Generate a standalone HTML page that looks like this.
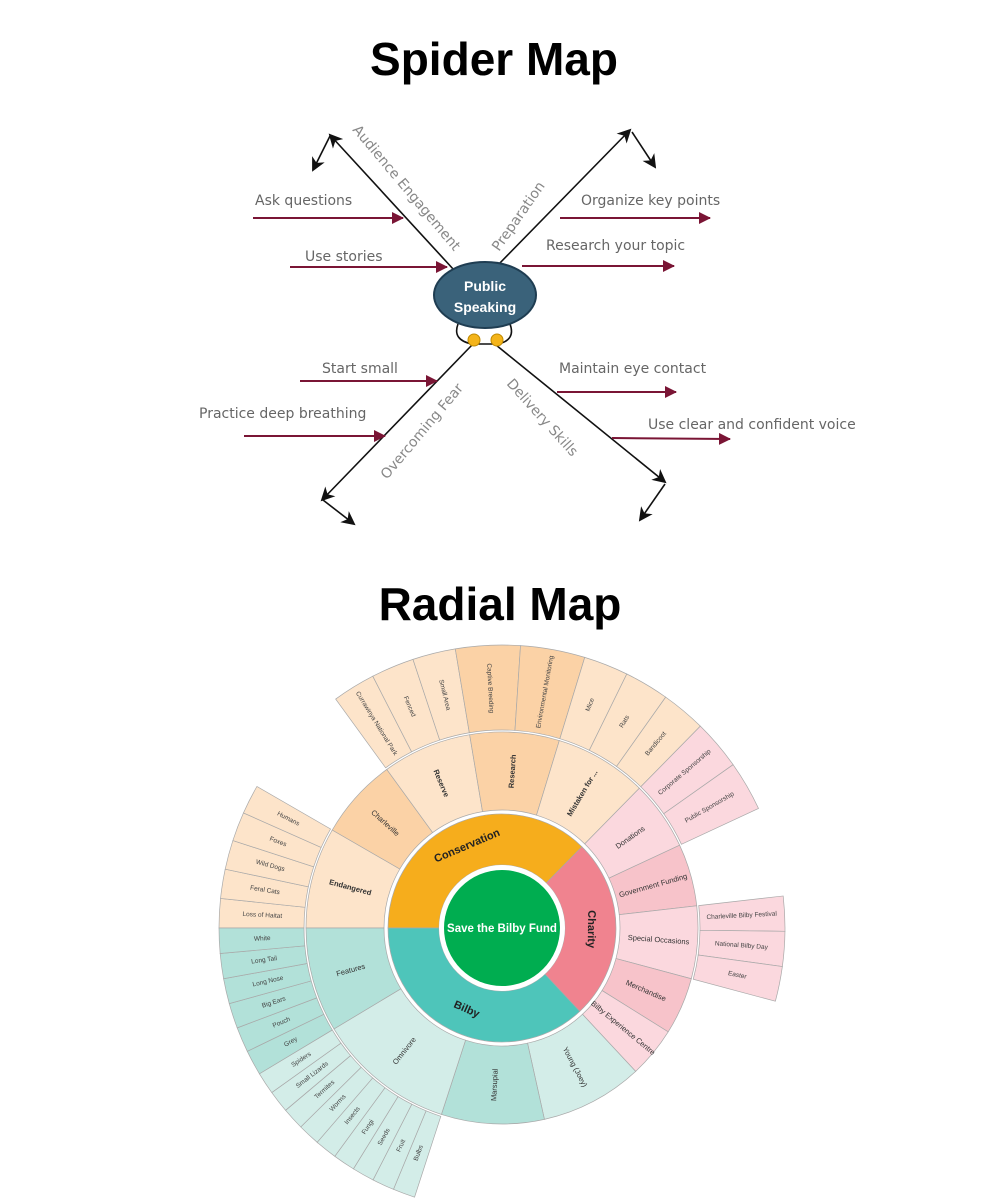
<!DOCTYPE html>
<html><head><meta charset="utf-8"><style>
html,body{margin:0;padding:0;background:#fff;width:1000px;height:1200px;overflow:hidden}
svg{display:block}
.t{font-family:"Liberation Sans",sans-serif}
.lab{font-family:"DejaVu Sans","Liberation Sans",sans-serif;fill:#666;font-size:14px}
.r3{font-family:"Liberation Sans",sans-serif;font-size:6.5px;fill:#444;text-anchor:middle;dominant-baseline:central}
.r2{font-family:"Liberation Sans",sans-serif;font-size:7.5px;fill:#333;text-anchor:middle;dominant-baseline:central}
.r1{font-family:"Liberation Sans",sans-serif;font-size:11px;font-weight:bold;fill:#222;text-anchor:middle;dominant-baseline:central}
</style></head><body>
<svg width="1000" height="1200" viewBox="0 0 1000 1200" xmlns="http://www.w3.org/2000/svg">
<defs>
<marker id="mb" markerWidth="14" markerHeight="14" refX="12" refY="7" orient="auto" markerUnits="userSpaceOnUse"><path d="M0,0 L14,7 L0,14 L4,7 z" fill="#111"/></marker>
<marker id="mr" markerWidth="12" markerHeight="12" refX="11" refY="6" orient="auto" markerUnits="userSpaceOnUse"><path d="M0,0 L12,6 L0,12 z" fill="#7a1535"/></marker>
</defs>
<text x="494" y="75" class="t" font-size="46" font-weight="bold" text-anchor="middle" fill="#000">Spider Map</text>
<text x="500" y="620" class="t" font-size="46" font-weight="bold" text-anchor="middle" fill="#000">Radial Map</text>

<g stroke="#111" stroke-width="1.6" fill="none">
<line x1="454" y1="270" x2="330" y2="135" marker-end="url(#mb)"/>
<line x1="330" y1="136" x2="313" y2="170" marker-end="url(#mb)"/>
<line x1="496" y1="267" x2="630" y2="130" marker-end="url(#mb)"/>
<line x1="632" y1="132" x2="655" y2="167" marker-end="url(#mb)"/>
<line x1="472" y1="345" x2="322" y2="500" marker-end="url(#mb)"/>
<line x1="323" y1="500" x2="354" y2="524" marker-end="url(#mb)"/>
<line x1="496" y1="345" x2="665" y2="482" marker-end="url(#mb)"/>
<line x1="665" y1="484" x2="640" y2="520" marker-end="url(#mb)"/>
<path d="M458,324 Q452,340 472,344 L498,344 Q516,340 510,324"/>
</g>
<circle cx="474" cy="340" r="6" fill="#f4b41a" stroke="#c08a00" stroke-width="1"/>
<circle cx="497" cy="340" r="6" fill="#f4b41a" stroke="#c08a00" stroke-width="1"/>
<ellipse cx="485" cy="295" rx="51" ry="33" fill="#3a627a" stroke="#1f3d52" stroke-width="2"/>
<text x="485" y="291" class="t" font-size="14" font-weight="bold" fill="#fff" text-anchor="middle">Public</text>
<text x="485" y="312" class="t" font-size="14" font-weight="bold" fill="#fff" text-anchor="middle">Speaking</text>

<g stroke="#7a1535" stroke-width="2" fill="none">
<line x1="253" y1="218" x2="403" y2="218" marker-end="url(#mr)"/>
<line x1="290" y1="267" x2="447" y2="267" marker-end="url(#mr)"/>
<line x1="560" y1="218" x2="710" y2="218" marker-end="url(#mr)"/>
<line x1="522" y1="266" x2="674" y2="266" marker-end="url(#mr)"/>
<line x1="300" y1="381" x2="437" y2="381" marker-end="url(#mr)"/>
<line x1="244" y1="436" x2="385" y2="436" marker-end="url(#mr)"/>
<line x1="557" y1="392" x2="676" y2="392" marker-end="url(#mr)"/>
<line x1="612" y1="438" x2="730" y2="439" marker-end="url(#mr)"/>
</g>
<text class="lab" x="255" y="205">Ask questions</text>
<text class="lab" x="305" y="261">Use stories</text>
<text class="lab" x="581" y="205">Organize key points</text>
<text class="lab" x="546" y="250">Research your topic</text>
<text class="lab" x="322" y="373">Start small</text>
<text class="lab" x="199" y="418">Practice deep breathing</text>
<text class="lab" x="559" y="373">Maintain eye contact</text>
<text class="lab" x="648" y="429">Use clear and confident voice</text>
<text class="lab" x="352" y="130" transform="rotate(50 352 130)" style="fill:#888">Audience Engagement</text>
<text class="lab" x="499" y="252" transform="rotate(-55 499 252)" style="fill:#888">Preparation</text>
<text class="lab" x="387" y="480" transform="rotate(-50 387 480)" style="fill:#888">Overcoming Fear</text>
<text class="lab" x="506" y="384" transform="rotate(48 506 384)" style="fill:#888">Delivery Skills</text>

<g id="wedges" stroke="#a9a9a9" stroke-width="0.7"></g>
<circle cx="502" cy="928" r="63" fill="#fff"/>
<circle cx="502" cy="928" r="58" fill="#00ad50"/>
<text x="502" y="932" class="t" font-size="11.5" font-weight="bold" fill="#fff" text-anchor="middle">Save the Bilby Fund</text>

<g>
<text class="r1" x="591" y="928" transform="rotate(247 502 928) rotate(90 591 928)">Conservation</text>
<text class="r1" x="591" y="928" transform="rotate(0.75 502 928) rotate(90 591 928)">Charity</text>
<text class="r1" x="591" y="928" transform="rotate(113.5 502 928) rotate(-90 591 928)">Bilby</text>

<text class="r2" x="659" y="928" font-weight="bold" transform="rotate(195 502 928) rotate(180 659 928)">Endangered</text>
<text class="r2" x="659" y="928" transform="rotate(222 502 928) rotate(180 659 928)">Charleville</text>
<text class="r2" x="659" y="928" font-weight="bold" transform="rotate(247.25 502 928) rotate(180 659 928)">Reserve</text>
<text class="r2" x="659" y="928" font-weight="bold" transform="rotate(273.75 502 928)">Research</text>
<text class="r2" x="659" y="928" font-weight="bold" transform="rotate(300.75 502 928)">Mistaken for ...</text>
<text class="r2" x="659" y="928" transform="rotate(324.75 502 928)">Donations</text>
<text class="r2" x="659" y="928" transform="rotate(344.25 502 928)">Government Funding</text>
<text class="r2" x="659" y="928" transform="rotate(4.25 502 928)">Special Occasions</text>
<text class="r2" x="659" y="928" transform="rotate(23.5 502 928)">Merchandise</text>
<text class="r2" x="659" y="928" transform="rotate(39.5 502 928)">Bilby Experience Centre</text>
<text class="r2" x="659" y="928" transform="rotate(62.25 502 928)">Young (Joey)</text>
<text class="r2" x="659" y="928" transform="rotate(92.75 502 928) rotate(180 659 928)">Marsupial</text>
<text class="r2" x="659" y="928" transform="rotate(128.5 502 928) rotate(180 659 928)">Omnivore</text>
<text class="r2" x="659" y="928" transform="rotate(164.5 502 928) rotate(180 659 928)">Features</text>

<text class="r3" x="742" y="928" transform="rotate(183 502 928) rotate(180 742 928)">Loss of Haitat</text>
<text class="r3" x="742" y="928" transform="rotate(189 502 928) rotate(180 742 928)">Feral Cats</text>
<text class="r3" x="742" y="928" transform="rotate(195 502 928) rotate(180 742 928)">Wild Dogs</text>
<text class="r3" x="742" y="928" transform="rotate(201 502 928) rotate(180 742 928)">Foxes</text>
<text class="r3" x="742" y="928" transform="rotate(207 502 928) rotate(180 742 928)">Humans</text>
<text class="r3" x="742" y="928" transform="rotate(238.4 502 928) rotate(180 742 928)">Currawinya National Park</text>
<text class="r3" x="742" y="928" transform="rotate(247.25 502 928) rotate(180 742 928)">Fenced</text>
<text class="r3" x="742" y="928" transform="rotate(256.1 502 928) rotate(180 742 928)">Small Area</text>
<text class="r3" x="742" y="928" transform="rotate(267.1 502 928) rotate(180 742 928)">Captive Breeding</text>
<text class="r3" x="742" y="928" transform="rotate(280.4 502 928)">Environmental Monitoring</text>
<text class="r3" x="742" y="928" transform="rotate(291.6 502 928)">Mice</text>
<text class="r3" x="742" y="928" transform="rotate(300.75 502 928)">Rats</text>
<text class="r3" x="742" y="928" transform="rotate(309.9 502 928)">Bandicoot</text>
<text class="r3" x="742" y="928" transform="rotate(319.6 502 928)">Corporate Sponsorship</text>
<text class="r3" x="742" y="928" transform="rotate(329.9 502 928)">Public Sponsorship</text>
<text class="r3" x="742" y="928" transform="rotate(357.1 502 928)">Charleville Bilby Festival</text>
<text class="r3" x="742" y="928" transform="rotate(4.25 502 928)">National Bilby Day</text>
<text class="r3" x="742" y="928" transform="rotate(11.4 502 928)">Easter</text>
<text class="r3" x="742" y="928" transform="rotate(110.3 502 928) rotate(180 742 928)">Bulbs</text>
<text class="r3" x="742" y="928" transform="rotate(114.8 502 928) rotate(180 742 928)">Fruit</text>
<text class="r3" x="742" y="928" transform="rotate(119.4 502 928) rotate(180 742 928)">Seeds</text>
<text class="r3" x="742" y="928" transform="rotate(123.9 502 928) rotate(180 742 928)">Fungi</text>
<text class="r3" x="742" y="928" transform="rotate(128.5 502 928) rotate(180 742 928)">Insects</text>
<text class="r3" x="742" y="928" transform="rotate(133.1 502 928) rotate(180 742 928)">Worms</text>
<text class="r3" x="742" y="928" transform="rotate(137.6 502 928) rotate(180 742 928)">Termites</text>
<text class="r3" x="742" y="928" transform="rotate(142.2 502 928) rotate(180 742 928)">Small Lizards</text>
<text class="r3" x="742" y="928" transform="rotate(146.7 502 928) rotate(180 742 928)">Spiders</text>
<text class="r3" x="742" y="928" transform="rotate(151.6 502 928) rotate(180 742 928)">Grey</text>
<text class="r3" x="742" y="928" transform="rotate(156.75 502 928) rotate(180 742 928)">Pouch</text>
<text class="r3" x="742" y="928" transform="rotate(161.9 502 928) rotate(180 742 928)">Big Ears</text>
<text class="r3" x="742" y="928" transform="rotate(167.1 502 928) rotate(180 742 928)">Long Nose</text>
<text class="r3" x="742" y="928" transform="rotate(172.25 502 928) rotate(180 742 928)">Long Tail</text>
<text class="r3" x="742" y="928" transform="rotate(177.4 502 928) rotate(180 742 928)">White</text>
</g>
</svg>
<script>
(function(){
var cx=502,cy=928,g=document.getElementById('wedges'),NS='http://www.w3.org/2000/svg';
function P(r,a){a=a*Math.PI/180;return (cx+r*Math.cos(a)).toFixed(2)+','+(cy+r*Math.sin(a)).toFixed(2);}
function W(r1,r2,a1,a2,f){var l=(a2-a1)>180?1:0;
var d='M'+P(r2,a1)+' A'+r2+','+r2+' 0 '+l+' 1 '+P(r2,a2)+' L'+P(r1,a2)+' A'+r1+','+r1+' 0 '+l+' 0 '+P(r1,a1)+' Z';
var p=document.createElementNS(NS,'path');p.setAttribute('d',d);p.setAttribute('fill',f);g.appendChild(p);}
function S(r1,r2,a1,a2,n,f){var s=(a2-a1)/n;for(var i=0;i<n;i++)W(r1,r2,a1+i*s,a1+(i+1)*s,f);}
W(63,114,180,314.5,'#f6ad1c');W(63,114,314.5,407,'#f0838f');W(63,114,47,180,'#4ec5ba');
var r=[[180,210,'#fde4ca'],[210,234,'#fbd2a6'],[234,260.5,'#fde4ca'],[260.5,287,'#fbd2a6'],[287,314.5,'#fde4ca'],
[314.5,335,'#fbd8de'],[335,353.5,'#f7c3ca'],[353.5,375,'#fbd8de'],[375,392,'#f7c3ca'],[392,407,'#fbd8de'],
[47,77.5,'#d3ede8'],[77.5,108,'#b2e1d9'],[108,149,'#d3ede8'],[149,180,'#b2e1d9']];
r.forEach(function(x){W(118,196,x[0],x[1],x[2]);});
S(198,283,180,210,5,'#fde4ca');S(198,283,234,260.5,3,'#fde4ca');S(198,283,260.5,287,2,'#fbd2a6');
S(198,283,287,314.5,3,'#fde4ca');S(198,283,314.5,335,2,'#fbd8de');S(198,283,353.5,375,3,'#fbd8de');
S(198,283,108,149,9,'#d3ede8');S(198,283,149,180,6,'#b2e1d9');
})();
</script>
</body></html>
